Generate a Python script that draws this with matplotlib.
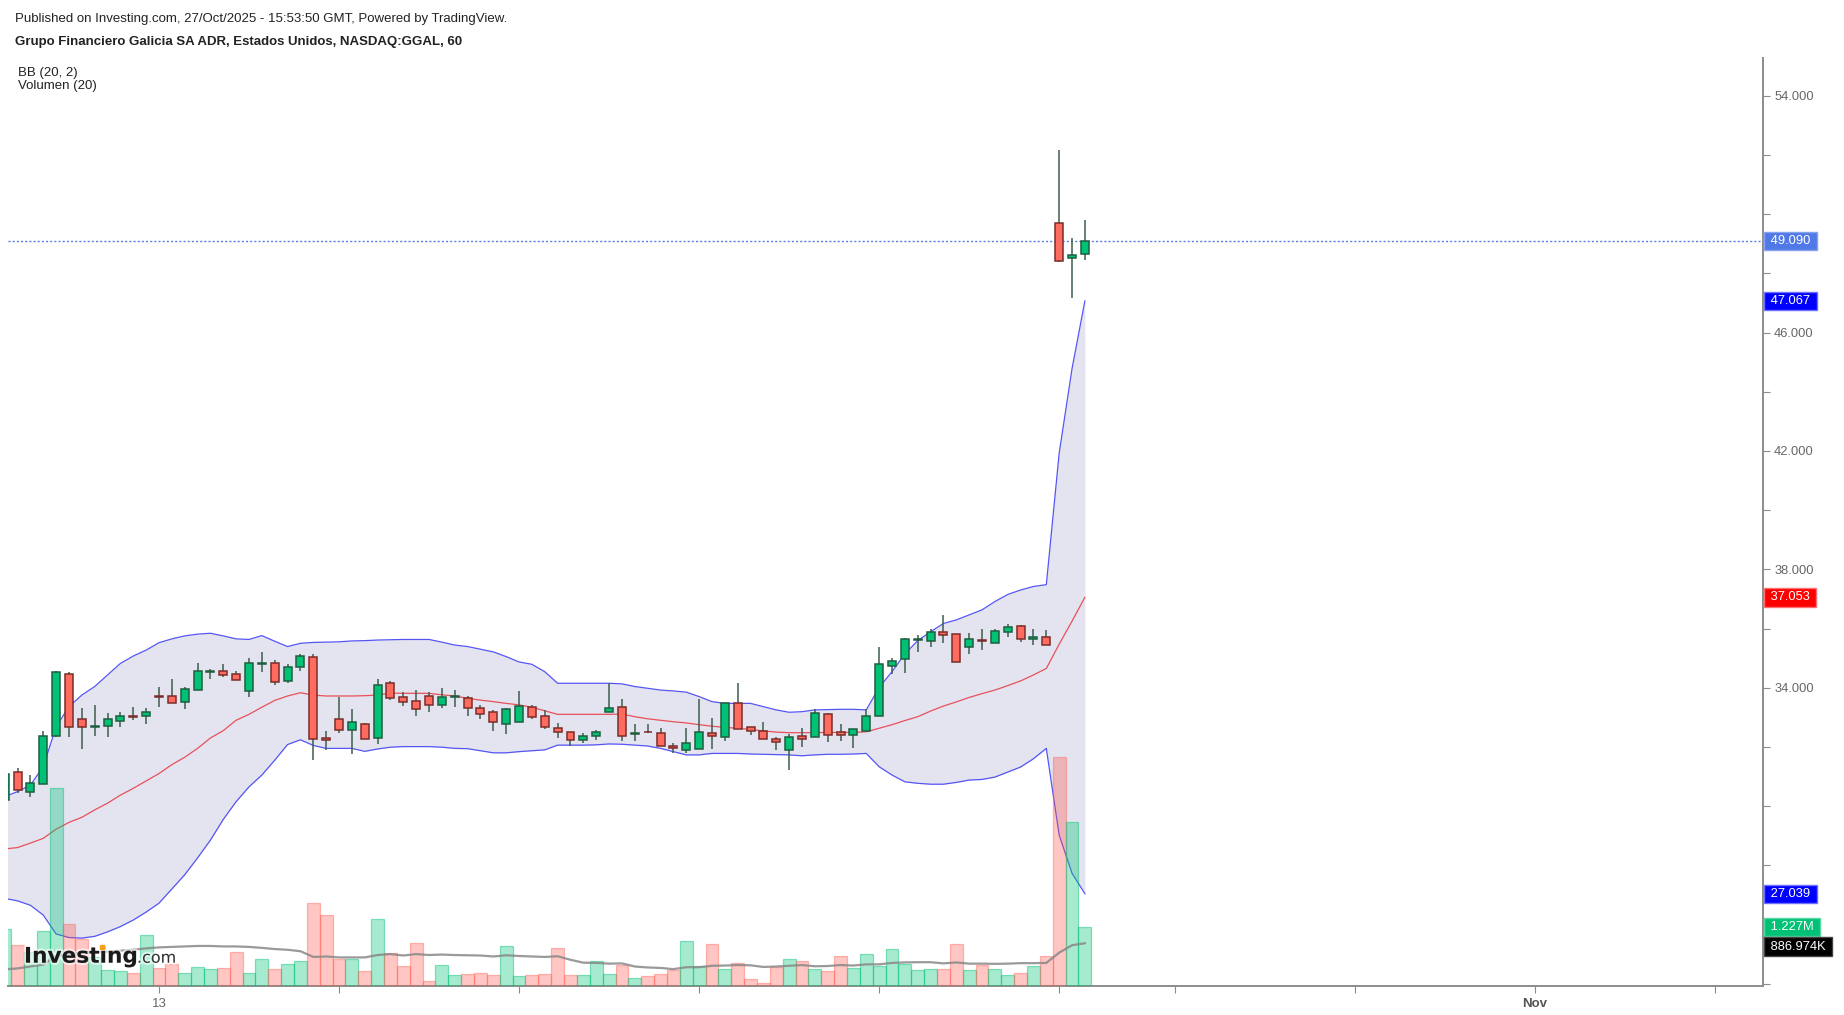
import numpy as np
import matplotlib
matplotlib.use("Agg")
import matplotlib.pyplot as plt
import matplotlib.patheffects as pe
from matplotlib.lines import Line2D

plt.rcParams['font.family'] = ['Liberation Sans', 'DejaVu Sans']

# 1h bars, index 0 = first bar of Oct 13
bar_start = -12
opens = [30.20, 31.14, 30.49, 30.75, 32.37, 34.46, 32.93, 32.68, 32.71, 32.88, 33.05, 33.04,
         33.72, 33.72, 33.52, 33.92, 34.52, 34.57, 34.45, 33.89, 34.80, 34.82, 34.23, 34.69,
         35.03, 32.29, 32.93, 32.57, 32.76, 32.29, 34.15, 33.68, 33.56, 33.72, 33.42, 33.68,
         33.64, 33.30, 33.17, 32.77, 32.83, 33.34, 33.04, 32.63, 32.51, 32.23, 32.36, 33.17,
         33.34, 32.43, 32.52, 32.46, 32.03, 31.89, 31.93, 32.46, 32.35, 33.47, 32.66, 32.55,
         32.26, 31.89, 32.37, 32.32, 33.11, 32.50, 32.40, 32.54, 33.04, 34.73, 34.97, 35.61,
         35.58, 35.88, 35.80, 35.36, 35.62, 35.50, 35.87, 36.10, 35.65, 35.72, 49.70, 48.52, 48.66]
highs = [31.20, 31.28, 31.05, 32.55, 34.58, 34.54, 33.30, 33.41, 33.13, 33.19, 33.36, 33.30,
         34.04, 34.28, 34.04, 34.82, 34.62, 34.80, 34.58, 34.99, 35.22, 34.94, 34.80, 35.14,
         35.14, 32.55, 33.70, 33.27, 32.80, 34.28, 34.23, 33.87, 33.92, 33.87, 33.98, 33.92,
         33.72, 33.41, 33.25, 33.30, 33.89, 33.41, 33.25, 32.82, 32.51, 32.46, 32.57, 34.15,
         33.61, 32.76, 32.76, 32.63, 32.12, 32.63, 33.61, 32.97, 33.47, 34.15, 32.68, 32.85,
         32.35, 32.44, 32.63, 33.27, 33.16, 32.77, 32.59, 33.27, 35.39, 34.99, 35.67, 35.78,
         35.97, 36.46, 35.80, 35.84, 35.97, 36.00, 36.15, 36.12, 36.00, 35.95, 52.15, 49.18, 49.80]
lows = [30.05, 30.45, 30.32, 30.74, 32.35, 32.32, 31.93, 32.38, 32.32, 32.68, 32.90, 32.77,
        33.34, 33.50, 33.27, 33.92, 34.28, 34.37, 34.26, 33.70, 34.54, 34.09, 34.15, 34.58,
        31.56, 31.90, 32.46, 31.76, 32.27, 32.10, 33.60, 33.39, 33.05, 33.19, 33.33, 33.36,
        33.05, 32.93, 32.55, 32.44, 32.83, 32.93, 32.59, 32.31, 32.04, 32.14, 32.23, 33.17,
        32.21, 32.21, 32.48, 32.03, 31.80, 31.80, 31.93, 31.93, 32.21, 32.62, 32.39, 32.28,
        31.90, 31.22, 31.99, 32.32, 32.15, 32.21, 31.95, 32.54, 33.04, 34.46, 34.51, 35.22,
        35.39, 35.52, 34.86, 35.14, 35.27, 35.50, 35.72, 35.56, 35.44, 35.44, 48.38, 47.16, 48.45]
closes = [31.10, 30.54, 30.77, 32.37, 34.54, 32.68, 32.66, 32.69, 32.93, 33.04, 33.00, 33.18,
          33.68, 33.50, 33.94, 34.56, 34.57, 34.44, 34.26, 34.82, 34.84, 34.20, 34.69, 35.08,
          32.26, 32.24, 32.57, 32.84, 32.27, 34.10, 33.66, 33.53, 33.28, 33.42, 33.68, 33.70,
          33.30, 33.11, 32.83, 33.27, 33.38, 33.00, 32.66, 32.49, 32.23, 32.37, 32.49, 33.30,
          32.37, 32.46, 32.49, 32.03, 31.95, 32.12, 32.51, 32.37, 33.47, 32.62, 32.54, 32.28,
          32.17, 32.32, 32.28, 33.13, 32.40, 32.40, 32.59, 33.04, 34.79, 34.90, 35.63, 35.65,
          35.89, 35.79, 34.86, 35.63, 35.58, 35.93, 36.06, 35.65, 35.70, 35.44, 48.40, 48.62, 49.09]

# volume in millions and its 20-bar average
volumes = [1.18, 0.84, 0.70, 1.15, 4.13, 1.29, 0.97, 0.60, 0.33, 0.30, 0.26, 1.05,
           0.36, 0.45, 0.26, 0.38, 0.34, 0.36, 0.70, 0.26, 0.55, 0.34, 0.46, 0.52,
           1.73, 1.48, 0.56, 0.56, 0.30, 1.40, 0.68, 0.40, 0.89, 0.09, 0.44, 0.23,
           0.24, 0.27, 0.23, 0.82, 0.20, 0.23, 0.24, 0.79, 0.23, 0.22, 0.51, 0.24,
           0.43, 0.16, 0.20, 0.24, 0.33, 0.93, 0.42, 0.87, 0.35, 0.47, 0.14, 0.06,
           0.38, 0.56, 0.51, 0.35, 0.30, 0.61, 0.37, 0.66, 0.42, 0.77, 0.45, 0.33,
           0.35, 0.35, 0.87, 0.33, 0.43, 0.35, 0.22, 0.27, 0.40, 0.61, 4.79, 3.42, 1.227]
vol_ma = [0.34, 0.36, 0.40, 0.44, 0.62, 0.66, 0.69, 0.70, 0.71, 0.73, 0.75, 0.78,
          0.80, 0.81, 0.82, 0.83, 0.83, 0.82, 0.82, 0.81, 0.79, 0.765, 0.75, 0.72,
          0.60, 0.61, 0.59, 0.59, 0.59, 0.64, 0.66, 0.63, 0.66, 0.64, 0.65, 0.64,
          0.635, 0.63, 0.61, 0.635, 0.62, 0.61, 0.60, 0.615, 0.54, 0.48, 0.475, 0.46,
          0.465, 0.40, 0.38, 0.37, 0.345, 0.385, 0.385, 0.415, 0.42, 0.43, 0.425, 0.39,
          0.40, 0.415, 0.43, 0.405, 0.41, 0.43, 0.42, 0.445, 0.445, 0.475, 0.485, 0.49,
          0.49, 0.465, 0.485, 0.46, 0.46, 0.455, 0.46, 0.47, 0.47, 0.475, 0.69, 0.845, 0.887]

# Bollinger (20, 2)
bb_upper = [30.32, 30.49, 30.71, 31.33, 32.68, 33.36, 33.75, 34.04, 34.43, 34.82, 35.07, 35.27,
            35.52, 35.65, 35.75, 35.81, 35.84, 35.75, 35.65, 35.63, 35.76, 35.57, 35.39, 35.50,
            35.53, 35.54, 35.55, 35.58, 35.59, 35.61, 35.62, 35.63, 35.63, 35.63, 35.54, 35.44,
            35.39, 35.30, 35.21, 35.05, 34.87, 34.79, 34.54, 34.15, 34.15, 34.15, 34.15, 34.15,
            34.13, 34.04, 33.98, 33.92, 33.89, 33.85, 33.70, 33.53, 33.47, 33.47, 33.47, 33.36,
            33.25, 33.17, 33.19, 33.25, 33.26, 33.27, 33.27, 33.25, 34.01, 34.54, 35.14, 35.59,
            35.89, 36.17, 36.29, 36.46, 36.63, 36.91, 37.15, 37.30, 37.42, 37.48, 41.92, 44.78, 47.067]
bb_basis = [28.55, 28.60, 28.75, 28.91, 29.22, 29.45, 29.62, 29.87, 30.10, 30.37, 30.60, 30.85,
            31.10, 31.40, 31.65, 31.95, 32.30, 32.55, 32.90, 33.10, 33.34, 33.57, 33.72, 33.83,
            33.75, 33.72, 33.72, 33.72, 33.73, 33.75, 33.82, 33.81, 33.81, 33.81, 33.76, 33.72,
            33.64, 33.58, 33.53, 33.47, 33.42, 33.34, 33.22, 33.10, 33.10, 33.10, 33.10, 33.10,
            33.11, 33.02, 32.95, 32.90, 32.85, 32.81, 32.75, 32.70, 32.66, 32.63, 32.59, 32.54,
            32.50, 32.48, 32.48, 32.48, 32.49, 32.49, 32.49, 32.51, 32.63, 32.75, 32.89, 33.02,
            33.21, 33.38, 33.52, 33.67, 33.80, 33.92, 34.07, 34.23, 34.43, 34.65, 35.47, 36.25, 37.053]
bb_lower = [26.88, 26.80, 26.65, 26.32, 25.68, 25.56, 25.54, 25.60, 25.75, 25.93, 26.15, 26.42,
            26.72, 27.20, 27.68, 28.25, 28.85, 29.55, 30.15, 30.65, 31.05, 31.55, 32.08, 32.24,
            32.05, 31.95, 31.95, 31.95, 31.85, 31.93, 31.99, 32.01, 32.01, 32.01, 31.99, 31.95,
            31.94, 31.87, 31.80, 31.80, 31.84, 31.87, 31.90, 32.06, 32.06, 32.06, 32.07, 32.10,
            32.09, 32.06, 32.03, 31.95, 31.84, 31.73, 31.73, 31.78, 31.78, 31.78, 31.76, 31.75,
            31.74, 31.73, 31.70, 31.73, 31.75, 31.75, 31.76, 31.78, 31.33, 31.05, 30.82, 30.77,
            30.74, 30.74, 30.80, 30.88, 30.90, 30.98, 31.15, 31.32, 31.60, 31.95, 29.02, 27.73, 27.039]

last_price = 49.090
last_vol = 1.227
last_vol_ma = 0.886974

price_ticks = list(range(24, 55, 2))
price_labelled = [54, 46, 42, 38, 34]
time_ticks = [0, 14, 28, 42, 56, 70, 79, 93, 107, 121]
time_labels = ['13', '', '', '', '', '', '', '', 'Nov', '']

o = np.array(opens); h = np.array(highs); l = np.array(lows); c = np.array(closes)
xs = np.arange(bar_start, bar_start + len(c))
up = c >= o

fig = plt.figure(figsize=(18.44, 10.15), dpi=100)
ax = fig.add_axes([8 / 1844, 29.4 / 1015, 1755 / 1844, 927.6 / 1015])
ax.set_xlim(-11.74, 124.73)
ax.set_ylim(23.936, 55.274)

# bands
ax.fill_between(xs, bb_lower, bb_upper, color='#e4e4f0', lw=0, zorder=1)
ax.plot(xs, bb_upper, color='#5555f5', lw=0.9, zorder=2)
ax.plot(xs, bb_lower, color='#5555f5', lw=0.9, zorder=2)
ax.plot(xs, bb_basis, color='#e8505a', lw=0.9, zorder=2)

ax.axhline(last_price, color='#5a7de6', lw=1, ls=(0, (1.5, 1.5)), zorder=2)

# candles
ax.vlines(xs, l, h, colors='#3c5e4c', lw=1.1, zorder=3)
body_bot = np.minimum(o, c)
body_h = np.maximum(np.abs(c - o), 0.03)
ax.bar(xs, body_h, bottom=body_bot, width=0.62,
       color=np.where(up, '#00c176', '#ff6b5f'),
       edgecolor=np.where(up, '#1e5e3e', '#7a2d28'), linewidth=1.1, zorder=4)

# volume overlay
vax = ax.twinx()
vax.set_ylim(0, 927.6 / 47.76)
vcol = [(0, 0.78, 0.47, 0.35) if u else (1, 0.31, 0.27, 0.32) for u in up]
vedge = [(0, 0.75, 0.45, 0.45) if u else (1, 0.35, 0.3, 0.4) for u in up]
vax.bar(xs, volumes, width=1.0, color=vcol, edgecolor=vedge, linewidth=0.9)
vax.plot(xs, vol_ma, color='#888888', lw=1.6, alpha=0.85)
vax.set_yticks([])
for s in vax.spines.values():
    s.set_visible(False)
vax.tick_params(axis='both', length=0, labelright=False)

# axes styling
for side in ['left', 'top']:
    ax.spines[side].set_visible(False)
for side in ['right', 'bottom']:
    ax.spines[side].set_color('#8c8c8c')
    ax.spines[side].set_linewidth(1.4)
ax.yaxis.tick_right()
ax.set_yticks(price_ticks)
ax.set_yticklabels([f'{v:.3f}' if v in price_labelled else '' for v in price_ticks])
ax.tick_params(axis='y', direction='out', length=5, color='#8c8c8c',
               labelcolor='#666666', labelsize=9.3, pad=3)
ax.set_xticks(time_ticks)
ax.set_xticklabels(time_labels)
ax.tick_params(axis='x', direction='out', length=5, color='#8c8c8c',
               labelcolor='#666666', labelsize=9.5, pad=4)
for lab in ax.get_xticklabels():
    if lab.get_text() == 'Nov':
        lab.set_fontweight('bold')
        lab.set_color('#555555')


def tag(axis, y, text, fc, ec, dy=0):
    axis.annotate(' ' + text + ' ', xy=(1, y), xycoords=axis.get_yaxis_transform(),
                  xytext=(2.7, dy), textcoords='offset points', ha='left', va='center',
                  color='white', fontsize=9.3, annotation_clip=False, zorder=10,
                  bbox=dict(boxstyle='square,pad=0.25', fc=fc, ec=ec, lw=1))


tag(ax, last_price, f'{last_price:.3f}', '#5078e6', '#86a2f0')
tag(ax, bb_upper[-1], f'{bb_upper[-1]:.3f}', '#0000ff', '#7070ff')
tag(ax, bb_basis[-1], f'{bb_basis[-1]:.3f}', '#ff0000', '#ff7070')
tag(ax, bb_lower[-1], f'{bb_lower[-1]:.3f}', '#0000ff', '#7070ff')
tag(vax, last_vol, f'{last_vol:.3f}M', '#00c176', '#55d9a0')
tag(vax, last_vol_ma, f'{last_vol_ma * 1000:.3f}K', '#000000', '#444444', dy=-2.5)

# header texts
fig.text(15 / 1844, 1 - 22.3 / 1015,
         'Published on Investing.com, 27/Oct/2025 - 15:53:50 GMT, Powered by TradingView.',
         fontsize=9.5, color='#222222', va='baseline')
fig.text(15 / 1844, 1 - 45.3 / 1015,
         'Grupo Financiero Galicia SA ADR, Estados Unidos, NASDAQ:GGAL, 60',
         fontsize=9.5, fontweight='bold', color='#222222', va='baseline')
fig.text(18 / 1844, 1 - 76 / 1015, 'BB (20, 2)', fontsize=9.5, color='#222222', va='baseline')
fig.text(18 / 1844, 1 - 89 / 1015, 'Volumen (20)', fontsize=9.5, color='#222222', va='baseline')

# watermark
halo = [pe.withStroke(linewidth=3, foreground='white', alpha=0.6)]
fig.text(24 / 1844, 1 - 962.7 / 1015, 'Investing', family='DejaVu Sans', fontweight='bold',
         fontsize=15.6, color='#1a1a1a', va='baseline', path_effects=halo, zorder=20)
fig.text(137 / 1844, 1 - 962.7 / 1015, '.com', family='DejaVu Sans', fontsize=11.5,
         color='#333333', va='baseline', path_effects=halo, zorder=20)
fig.add_artist(Line2D([102 / 1844], [1 - 947 / 1015], marker='s', ms=3.5,
                      color='#f5a01a', transform=fig.transFigure, zorder=21))

fig.savefig('out.png', dpi=100)
